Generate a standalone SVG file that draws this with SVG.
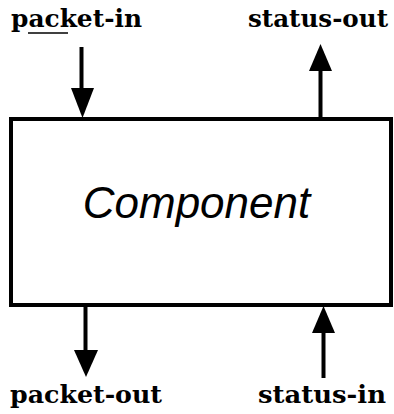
<svg xmlns="http://www.w3.org/2000/svg" width="394" height="414" viewBox="0 0 394 414">
<style>
.box{fill:#fff;stroke:#000;stroke-width:4}
.lbl{font-family:"DejaVu Serif","Liberation Serif",serif;font-weight:bold;font-size:25px;fill:#000}
.title{font-family:"Liberation Sans",Arial,sans-serif;font-style:italic;font-size:44px;fill:#000}
.wire{stroke:#000;stroke-width:4;fill:none}
.head{fill:#000;stroke:none}
</style>
<rect width="394" height="414" fill="#fff"/>
<g id="component">
<rect class="box" x="11" y="119" width="380" height="186"/>
<text class="title" x="196.5" y="218" text-anchor="middle">Component</text>
</g>
<g id="labels">
<g id="packet-in"><text class="lbl" x="11" y="27" textLength="131" lengthAdjust="spacingAndGlyphs">packet-in</text><line x1="28" y1="33" x2="68" y2="33" stroke="#000" stroke-width="1.5"/></g>
<g id="status-out"><text class="lbl" x="248" y="27" textLength="140" lengthAdjust="spacingAndGlyphs">status-out</text></g>
<g id="packet-out"><text class="lbl" x="10" y="403" textLength="152" lengthAdjust="spacingAndGlyphs">packet-out</text></g>
<g id="status-in"><text class="lbl" x="258" y="403" textLength="128" lengthAdjust="spacingAndGlyphs">status-in</text></g>
</g>
<g id="connectors">
<line class="wire" x1="81.5" y1="47" x2="81.5" y2="90"/>
<polygon class="head" points="71,88 94,88 82.5,118"/>
<line class="wire" x1="320.5" y1="117" x2="320.5" y2="68"/>
<polygon class="head" points="309,71 332,71 320.5,44"/>
<line class="wire" x1="85.5" y1="305" x2="85.5" y2="352"/>
<polygon class="head" points="74,350 98,350 86,377"/>
<line class="wire" x1="323.5" y1="378" x2="323.5" y2="330"/>
<polygon class="head" points="312,333 335,333 323.5,306"/>
</g>
</svg>
